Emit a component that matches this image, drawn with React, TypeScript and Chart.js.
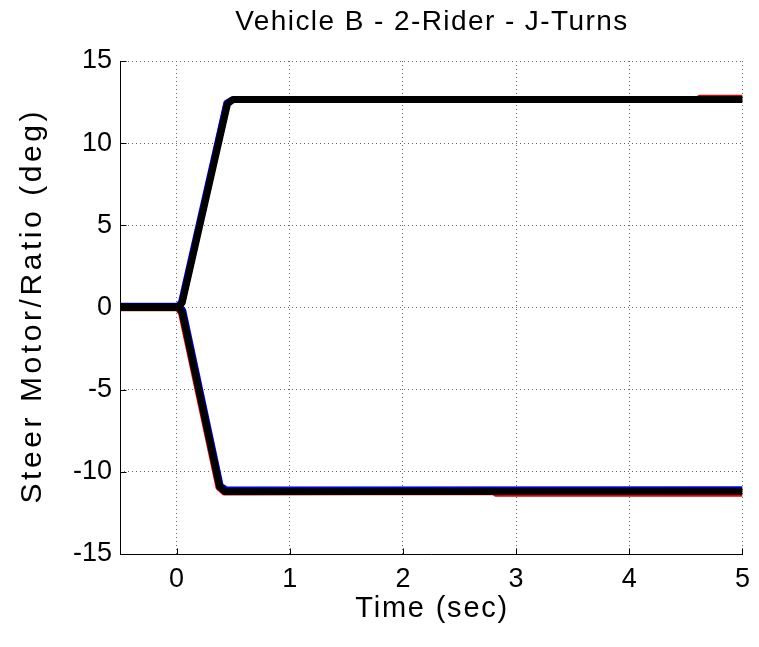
import React, { useEffect, useRef } from "react";
import { Chart, registerables } from "chart.js";

Chart.register(...registerables);

const titleText = "Vehicle B - 2-Rider - J-Turns";
const xAxisTitle = "Time (sec)";
const yAxisTitle = "Steer Motor/Ratio (deg)";

const xTicks = [0, 1, 2, 3, 4, 5];
const yTicks = [-15, -10, -5, 0, 5, 10, 15];

// Upper (left-turn) traces
const upperRedTime = [-0.5, 0.02, 0.05, 0.44, 0.49, 4.6, 4.62, 5.0];
const upperRedValue = [0.0, 0.0, 0.3, 12.4, 12.66, 12.66, 12.76, 12.76];
const upperBlueTime = [-0.5, 0.01, 0.04, 0.44, 0.49, 5.0];
const upperBlueValue = [0.05, 0.05, 0.35, 12.45, 12.66, 12.66];
const upperBlackTime = [-0.5, 0.02, 0.05, 0.45, 0.5, 5.0];
const upperBlackValue = [0.05, 0.05, 0.3, 12.4, 12.66, 12.66];

// Lower (right-turn) traces
const lowerRedTime = [-0.5, 0.01, 0.04, 0.37, 0.42, 2.8, 2.82, 5.0];
const lowerRedValue = [-0.05, -0.05, -0.35, -10.95, -11.25, -11.22, -11.33, -11.33];
const lowerBlueTime = [-0.5, 0.03, 0.06, 0.39, 0.44, 5.0];
const lowerBlueValue = [0.1, 0.1, -0.2, -10.85, -11.08, -11.06];
const lowerBlackTime = [-0.5, 0.02, 0.05, 0.38, 0.43, 5.0];
const lowerBlackValue = [0.0, 0.0, -0.3, -10.9, -11.2, -11.18];

const FONT = "'Liberation Sans', Arial, Helvetica, sans-serif";

function toPoints(t: number[], v: number[]) {
  return t.map((x, i) => ({ x, y: v[i] }));
}

function spacedText(
  ctx: CanvasRenderingContext2D,
  text: string,
  size: number,
  targetWidth: number,
  x: number,
  y: number,
  rotate: boolean
) {
  ctx.save();
  ctx.font = `${size}px ${FONT}`;
  (ctx as any).letterSpacing = "0px";
  const natural = ctx.measureText(text).width;
  const spacing = Math.max(0, (targetWidth - natural) / Math.max(1, text.length - 1));
  (ctx as any).letterSpacing = `${spacing}px`;
  ctx.fillStyle = "#000";
  ctx.textBaseline = "middle";
  ctx.textAlign = "left";
  ctx.translate(x, y);
  if (rotate) ctx.rotate(-Math.PI / 2);
  ctx.fillText(text, -targetWidth / 2, 0);
  ctx.restore();
}

const decorations = {
  id: "decorations",
  afterDatasetsDraw(chart: any) {
    const { ctx, chartArea, scales } = chart;
    ctx.save();
    ctx.strokeStyle = "#000";
    ctx.lineWidth = 1;
    ctx.setLineDash([]);
    ctx.beginPath();
    const l = Math.round(chartArea.left) + 0.5;
    const b = Math.round(chartArea.bottom) + 0.5;
    ctx.moveTo(l, Math.round(chartArea.top));
    ctx.lineTo(l, b);
    ctx.lineTo(Math.round(chartArea.right) + 1, b);
    xTicks.forEach((v) => {
      const px = Math.round(scales.x.getPixelForValue(v)) + 0.5;
      ctx.moveTo(px, b);
      ctx.lineTo(px, b - 6);
    });
    yTicks.forEach((v) => {
      const py = Math.round(scales.y.getPixelForValue(v)) + 0.5;
      ctx.moveTo(l, py);
      ctx.lineTo(l + 6, py);
    });
    ctx.stroke();
    ctx.restore();
  },
  afterDraw(chart: any) {
    const { ctx, chartArea } = chart;
    const cx = (chartArea.left + chartArea.right) / 2;
    const cy = (chartArea.top + chartArea.bottom) / 2;
    spacedText(ctx, titleText, 28, 392, cx, 22, false);
    spacedText(ctx, xAxisTitle, 29, 152, cx, 609, false);
    spacedText(ctx, yAxisTitle, 30, 392, 33, cy, true);
  },
};

export default function App() {
  const ref = useRef<HTMLCanvasElement | null>(null);

  useEffect(() => {
    if (!ref.current) return;
    const mk = (t: number[], v: number[], color: string, w: number) => ({
      data: toPoints(t, v),
      borderColor: color,
      backgroundColor: color,
      borderWidth: w,
      pointRadius: 0,
      tension: 0,
      fill: false,
      borderJoinStyle: "round" as const,
      borderCapStyle: "butt" as const,
    });
    const chart = new Chart(ref.current, {
      type: "line",
      data: {
        // Chart.js draws the first dataset on top
        datasets: [
          mk(upperBlackTime, upperBlackValue, "#000000", 7),
          mk(lowerBlackTime, lowerBlackValue, "#000000", 7),
          mk(upperBlueTime, upperBlueValue, "#0000ff", 6),
          mk(lowerBlueTime, lowerBlueValue, "#0000ff", 6),
          mk(upperRedTime, upperRedValue, "#e00000", 6),
          mk(lowerRedTime, lowerRedValue, "#e00000", 6),
        ],
      },
      options: {
        animation: false,
        responsive: false,
        events: [],
        layout: { padding: { left: 0, top: 61, right: 11, bottom: 0 } },
        plugins: {
          legend: { display: false },
          tooltip: { enabled: false },
          title: { display: false },
        },
        scales: {
          x: {
            type: "linear",
            min: -0.5,
            max: 5,
            afterBuildTicks: (s: any) => {
              s.ticks = xTicks.map((v) => ({ value: v }));
            },
            afterFit: (s: any) => {
              s.height = 93;
            },
            grid: {
              drawTicks: false,
              color: "#666",
              lineWidth: 1,
            },
            border: { display: false, dash: [1, 3] },
            ticks: {
              color: "#000",
              padding: 9,
              font: { family: FONT, size: 27 },
            },
          },
          y: {
            type: "linear",
            min: -15,
            max: 15,
            afterBuildTicks: (s: any) => {
              s.ticks = yTicks.map((v) => ({ value: v }));
            },
            afterFit: (s: any) => {
              s.width = 120;
            },
            grid: {
              drawTicks: false,
              color: "#666",
              lineWidth: 1,
            },
            border: { display: false, dash: [1, 3] },
            ticks: {
              color: "#000",
              padding: 8,
              font: { family: FONT, size: 27 },
            },
          },
        },
      },
      plugins: [decorations],
    });
    return () => chart.destroy();
  }, []);

  return (
    <div style={{ position: "absolute", left: 0, top: 0, width: 759, height: 647, background: "#fff" }}>
      <canvas ref={ref} width={759} height={647} style={{ display: "block" }} />
    </div>
  );
}
